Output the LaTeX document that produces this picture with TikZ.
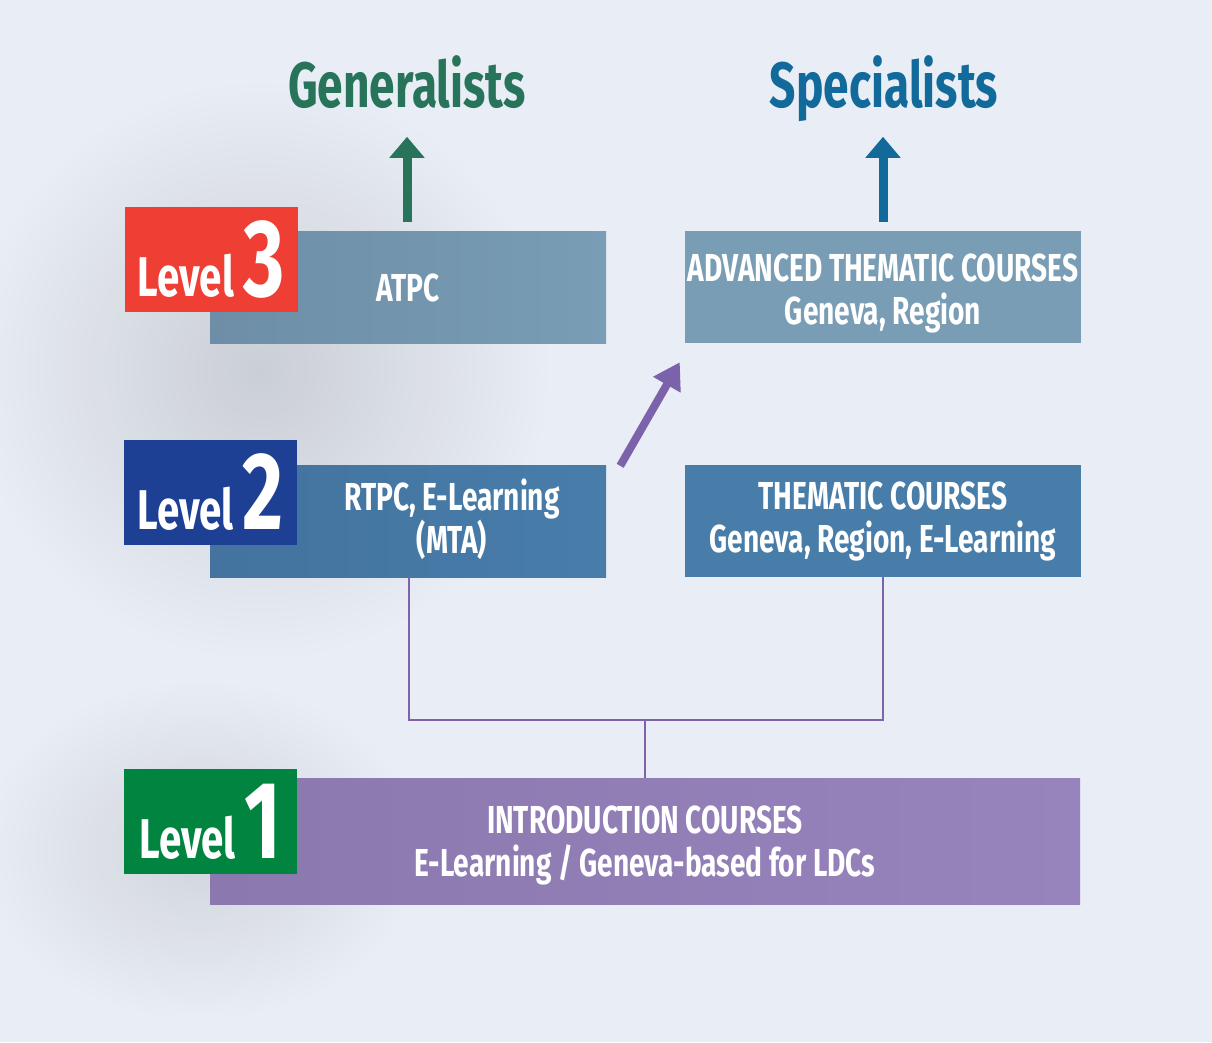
\documentclass[tikz,border=0pt]{standalone}
\usepackage{fontspec}
\setmainfont{Fira Sans}[FakeStretch=0.72]
\usetikzlibrary{arrows.meta,fadings}
\definecolor{bg}{HTML}{E9EDF5}
\definecolor{lvlred}{HTML}{EF3E33}
\definecolor{lvlblue}{HTML}{1D3F94}
\definecolor{lvlgreen}{HTML}{00843F}
\definecolor{genc}{HTML}{27745A}
\definecolor{specc}{HTML}{116A9A}
\definecolor{greyblueL}{HTML}{6D8EA6}
\definecolor{greyblueR}{HTML}{789DB5}
\definecolor{midblueL}{HTML}{43739E}
\definecolor{midblueR}{HTML}{487DAA}
\definecolor{purpL}{HTML}{8B78AE}
\definecolor{purpR}{HTML}{9784BD}
\definecolor{arrowpurp}{HTML}{7B62AA}
\definecolor{linepurp}{HTML}{7E63A8}
\tikzfading[name=softfade, inner color=transparent!0, outer color=transparent!100]
\newcommand{\boxfont}{\bfseries\fontsize{39}{43}\selectfont}
\newcommand{\titlefont}{\bfseries\fontsize{64}{70}\selectfont}
\newcommand{\lvltext}[1]{{\bfseries\fontsize{56}{56}\selectfont Level}\hspace{9pt}{\bfseries\fontsize{110}{110}\selectfont #1}}
\begin{document}
\begin{tikzpicture}[x=1pt,y=-1pt,
  coursebox/.style={rectangle, minimum width=396pt, minimum height=112pt, inner sep=0pt, text=white, font=\boxfont, align=center},
  lvlbox/.style={rectangle, minimum width=173pt, minimum height=105pt, inner sep=0pt, text=white},
  boxtext/.style={text=white, font=\boxfont, align=center, inner sep=0pt},
  bigarrow/.style={line width=9pt, -{Triangle[width=34pt,length=21pt]}},
  conn/.style={draw=linepurp, line width=2pt}]
\fill[bg] (0,0) rectangle (1212,1042);
\useasboundingbox (0,0) rectangle (1212,1042);
% soft shadows
\fill[black,opacity=0.13,path fading=softfade] (260,370) ellipse [x radius=290, y radius=290];
\fill[black,opacity=0.10,path fading=softfade] (200,850) ellipse [x radius=220, y radius=170];
% titles
\node[text=genc, font=\titlefont, anchor=base] (gen) at (407,107) {Generalists};
\node[text=specc, font=\titlefont, anchor=base] (spec) at (884,107) {Specialists};
% course boxes
\node[coursebox, left color=greyblueL, right color=greyblueR] (atpc) at (408,287) {};
\node[boxtext] (atpcT) at (408,288) {ATPC};
\node[coursebox, fill=greyblueR] (adv) at (883,287) {};
\node[boxtext] (advT) at (883,293) {ADVANCED THEMATIC COURSES\\Geneva, Region};
\node[coursebox, left color=midblueL, right color=midblueR] (rtpc) at (408,521) {};
\node[boxtext] (rtpcT) at (452,519) {RTPC, E-Learning\\(MTA)};
\node[coursebox, fill=midblueR] (them) at (883,521) {THEMATIC COURSES\\Geneva, Region, E-Learning};
\node[coursebox, minimum width=870pt, minimum height=126pt, left color=purpL, right color=purpR] (intro) at (645,841) {};
\node[boxtext] (introT) at (645,845) {INTRODUCTION COURSES\\E-Learning / Geneva-based for LDCs};
% level boxes
\node[lvlbox, fill=lvlred] (l3) at (211,259.5) {\lvltext{3}};
\node[lvlbox, fill=lvlblue] (l2) at (210.5,492.5) {\lvltext{2}};
\node[lvlbox, fill=lvlgreen] (l1) at (210.5,821.5) {\lvltext{1}};
% arrows
\draw[bigarrow, genc] ([xshift=-1pt,yshift=9pt]atpc.north) -- ([xshift=-1pt,yshift=94pt]atpc.north);
\draw[bigarrow, specc] ([yshift=9pt]adv.north) -- ([yshift=94pt]adv.north);
\draw[line width=8pt, arrowpurp, -{Triangle[width=30pt,length=26pt]}] ([xshift=14pt,yshift=-1pt]rtpc.north east) -- ([xshift=-5pt,yshift=-19pt]adv.south west);
% connectors
\coordinate (J) at (645,720);
\draw[conn] ([xshift=1pt]rtpc.south) |- (J) -| (them.south);
\draw[conn] (intro.north) -- (J);
\end{tikzpicture}
\end{document}
